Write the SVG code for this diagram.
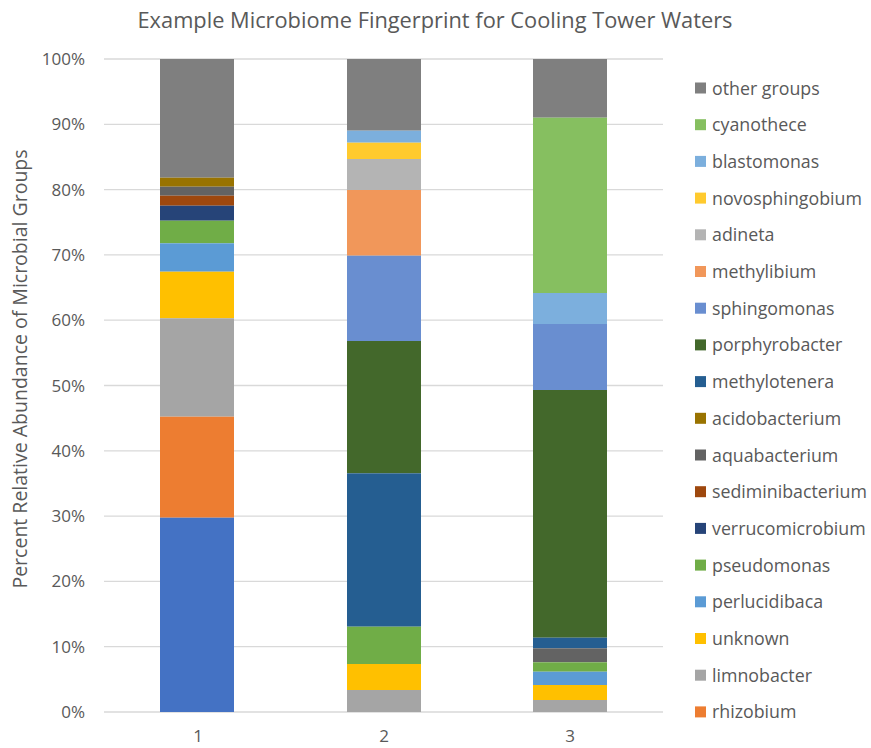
<svg xmlns="http://www.w3.org/2000/svg" width="871" height="748" viewBox="0 0 871 748">
<style>
text{font-family:"Open Sans","Liberation Sans",sans-serif;fill:#595959}
.title{font-size:21.8px}
.ax{font-size:17px;text-anchor:end}
.xl{font-size:17px;text-anchor:middle}
.lg{font-size:17.8px}
.grid{stroke:#D9D9D9;stroke-width:1.3}
.c-oth{fill:#7F7F7F}.c-cya{fill:#86BF60}.c-bla{fill:#7CAFDD}.c-nov{fill:#FFCA2E}
.c-adi{fill:#B4B4B4}.c-mtb{fill:#F1975A}.c-sph{fill:#698ED0}.c-por{fill:#43682B}
.c-mtt{fill:#255E91}.c-aci{fill:#997300}.c-aqu{fill:#636363}.c-sed{fill:#9E480E}
.c-ver{fill:#264478}.c-pse{fill:#70AD47}.c-per{fill:#5B9BD5}.c-unk{fill:#FFC000}
.c-lim{fill:#A5A5A5}.c-rhi{fill:#ED7D31}.c-bot{fill:#4472C4}
</style>
<rect width="871" height="748" fill="#FFFFFF"/>
<text class="title" x="435" y="28" text-anchor="middle">Example Microbiome Fingerprint for Cooling Tower Waters</text>
<g id="gridlines">
<line class="grid" x1="104" y1="59" x2="663" y2="59"/>
<line class="grid" x1="104" y1="124.3" x2="663" y2="124.3"/>
<line class="grid" x1="104" y1="189.6" x2="663" y2="189.6"/>
<line class="grid" x1="104" y1="254.9" x2="663" y2="254.9"/>
<line class="grid" x1="104" y1="320.2" x2="663" y2="320.2"/>
<line class="grid" x1="104" y1="385.5" x2="663" y2="385.5"/>
<line class="grid" x1="104" y1="450.8" x2="663" y2="450.8"/>
<line class="grid" x1="104" y1="516.1" x2="663" y2="516.1"/>
<line class="grid" x1="104" y1="581.4" x2="663" y2="581.4"/>
<line class="grid" x1="104" y1="646.7" x2="663" y2="646.7"/>
<line class="grid" x1="104" y1="712" x2="663" y2="712"/>
</g>
<g id="y-axis">
<text class="ax" x="85" y="65">100%</text>
<text class="ax" x="85" y="130.3">90%</text>
<text class="ax" x="85" y="195.6">80%</text>
<text class="ax" x="85" y="260.9">70%</text>
<text class="ax" x="85" y="326.2">60%</text>
<text class="ax" x="85" y="391.5">50%</text>
<text class="ax" x="85" y="456.8">40%</text>
<text class="ax" x="85" y="522.1">30%</text>
<text class="ax" x="85" y="587.4">20%</text>
<text class="ax" x="85" y="652.7">10%</text>
<text class="ax" x="85" y="718">0%</text>
<text x="0" y="0" font-size="19.5" text-anchor="middle" transform="translate(27 369) rotate(-90)">Percent Relative Abundance of Microbial Groups</text>
</g>
<g id="x-axis">
<text class="xl" x="198" y="742">1</text>
<text class="xl" x="384" y="742">2</text>
<text class="xl" x="570" y="742">3</text>
</g>
<g id="bar1">
<rect class="c-oth" x="160" y="59" width="74" height="118.7"/>
<rect class="c-aci" x="160" y="177.7" width="74" height="9"/>
<rect class="c-aqu" x="160" y="186.7" width="74" height="9"/>
<rect class="c-sed" x="160" y="195.7" width="74" height="10"/>
<rect class="c-ver" x="160" y="205.7" width="74" height="15"/>
<rect class="c-pse" x="160" y="220.7" width="74" height="22.6"/>
<rect class="c-per" x="160" y="243.3" width="74" height="28.4"/>
<rect class="c-unk" x="160" y="271.7" width="74" height="46.6"/>
<rect class="c-lim" x="160" y="318.3" width="74" height="98.4"/>
<rect class="c-rhi" x="160" y="416.7" width="74" height="101"/>
<rect class="c-bot" x="160" y="517.7" width="74" height="194.3"/>
</g>
<g id="bar2">
<rect class="c-oth" x="347" y="59" width="74" height="71.7"/>
<rect class="c-bla" x="347" y="130.7" width="74" height="12"/>
<rect class="c-nov" x="347" y="142.7" width="74" height="16.3"/>
<rect class="c-adi" x="347" y="159" width="74" height="31"/>
<rect class="c-mtb" x="347" y="190" width="74" height="65.7"/>
<rect class="c-sph" x="347" y="255.7" width="74" height="85.3"/>
<rect class="c-por" x="347" y="341" width="74" height="132.3"/>
<rect class="c-mtt" x="347" y="473.3" width="74" height="153.4"/>
<rect class="c-pse" x="347" y="626.7" width="74" height="37.3"/>
<rect class="c-unk" x="347" y="664" width="74" height="26"/>
<rect class="c-lim" x="347" y="690" width="74" height="22"/>
</g>
<g id="bar3">
<rect class="c-oth" x="533" y="59" width="74" height="58.7"/>
<rect class="c-cya" x="533" y="117.7" width="74" height="175.3"/>
<rect class="c-bla" x="533" y="293" width="74" height="31"/>
<rect class="c-sph" x="533" y="324" width="74" height="66"/>
<rect class="c-por" x="533" y="390" width="74" height="247.7"/>
<rect class="c-mtt" x="533" y="637.7" width="74" height="10.6"/>
<rect class="c-aqu" x="533" y="648.3" width="74" height="14"/>
<rect class="c-pse" x="533" y="662.3" width="74" height="9.4"/>
<rect class="c-per" x="533" y="671.7" width="74" height="13.3"/>
<rect class="c-unk" x="533" y="685" width="74" height="15"/>
<rect class="c-lim" x="533" y="700" width="74" height="12"/>
</g>
<g id="legend">
<g id="lg-other"><rect class="c-oth" x="695" y="82.5" width="11" height="11"/><text class="lg" x="712" y="94.5">other groups</text></g>
<g id="lg-cyanothece"><rect class="c-cya" x="695" y="119.2" width="11" height="11"/><text class="lg" x="712" y="131.2">cyanothece</text></g>
<g id="lg-blastomonas"><rect class="c-bla" x="695" y="155.9" width="11" height="11"/><text class="lg" x="712" y="167.9">blastomonas</text></g>
<g id="lg-novosphingobium"><rect class="c-nov" x="695" y="192.6" width="11" height="11"/><text class="lg" x="712" y="204.6">novosphingobium</text></g>
<g id="lg-adineta"><rect class="c-adi" x="695" y="229.3" width="11" height="11"/><text class="lg" x="712" y="241.3">adineta</text></g>
<g id="lg-methylibium"><rect class="c-mtb" x="695" y="266" width="11" height="11"/><text class="lg" x="712" y="278">methylibium</text></g>
<g id="lg-sphingomonas"><rect class="c-sph" x="695" y="302.7" width="11" height="11"/><text class="lg" x="712" y="314.7">sphingomonas</text></g>
<g id="lg-porphyrobacter"><rect class="c-por" x="695" y="339.4" width="11" height="11"/><text class="lg" x="712" y="351.4">porphyrobacter</text></g>
<g id="lg-methylotenera"><rect class="c-mtt" x="695" y="376.1" width="11" height="11"/><text class="lg" x="712" y="388.1">methylotenera</text></g>
<g id="lg-acidobacterium"><rect class="c-aci" x="695" y="412.8" width="11" height="11"/><text class="lg" x="712" y="424.8">acidobacterium</text></g>
<g id="lg-aquabacterium"><rect class="c-aqu" x="695" y="449.5" width="11" height="11"/><text class="lg" x="712" y="461.5">aquabacterium</text></g>
<g id="lg-sediminibacterium"><rect class="c-sed" x="695" y="486.2" width="11" height="11"/><text class="lg" x="712" y="498.2">sediminibacterium</text></g>
<g id="lg-verrucomicrobium"><rect class="c-ver" x="695" y="522.9" width="11" height="11"/><text class="lg" x="712" y="534.9">verrucomicrobium</text></g>
<g id="lg-pseudomonas"><rect class="c-pse" x="695" y="559.6" width="11" height="11"/><text class="lg" x="712" y="571.6">pseudomonas</text></g>
<g id="lg-perlucidibaca"><rect class="c-per" x="695" y="596.3" width="11" height="11"/><text class="lg" x="712" y="608.3">perlucidibaca</text></g>
<g id="lg-unknown"><rect class="c-unk" x="695" y="633" width="11" height="11"/><text class="lg" x="712" y="645">unknown</text></g>
<g id="lg-limnobacter"><rect class="c-lim" x="695" y="669.7" width="11" height="11"/><text class="lg" x="712" y="681.7">limnobacter</text></g>
<g id="lg-rhizobium"><rect class="c-rhi" x="695" y="706.4" width="11" height="11"/><text class="lg" x="712" y="718.4">rhizobium</text></g>
</g>
</svg>
